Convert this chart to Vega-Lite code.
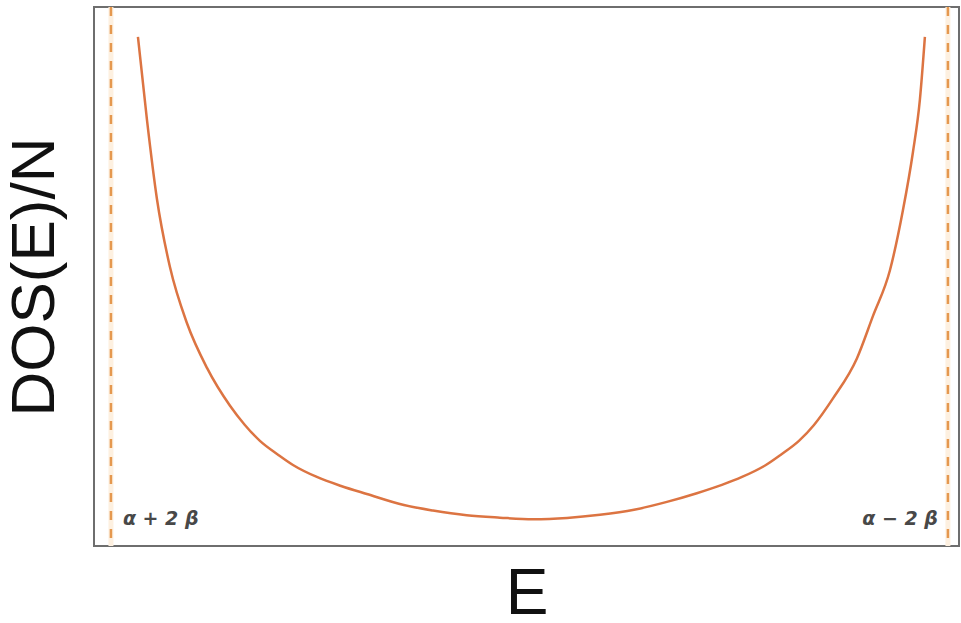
{
  "$schema": "https://vega.github.io/schema/vega-lite/v6.json",
  "autosize": {"type": "none"},
  "padding": {"left": 94, "top": 7, "right": 2, "bottom": 77},
  "width": 865,
  "height": 539,
  "background": "white",
  "config": {
    "view": {"stroke": "#6e6e6e", "strokeWidth": 2},
    "font": "Liberation Sans"
  },
  "datasets": {
    "dos": [
      {"E": -1.871, "DOS": 0.465},
      {"E": -1.828, "DOS": 0.4125},
      {"E": -1.780, "DOS": 0.362},
      {"E": -1.718, "DOS": 0.319},
      {"E": -1.637, "DOS": 0.2835},
      {"E": -1.541, "DOS": 0.255},
      {"E": -1.431, "DOS": 0.231},
      {"E": -1.360, "DOS": 0.2188},
      {"E": -1.288, "DOS": 0.2087},
      {"E": -1.200, "DOS": 0.1998},
      {"E": -1.130, "DOS": 0.1934},
      {"E": -1.016, "DOS": 0.1858},
      {"E": -0.900, "DOS": 0.1801},
      {"E": -0.777, "DOS": 0.175},
      {"E": -0.600, "DOS": 0.168},
      {"E": -0.461, "DOS": 0.1645},
      {"E": -0.300, "DOS": 0.1615},
      {"E": -0.141, "DOS": 0.160},
      {"E": 0.017, "DOS": 0.159},
      {"E": 0.180, "DOS": 0.1598},
      {"E": 0.337, "DOS": 0.1618},
      {"E": 0.500, "DOS": 0.165},
      {"E": 0.657, "DOS": 0.170},
      {"E": 0.800, "DOS": 0.1755},
      {"E": 0.920, "DOS": 0.1808},
      {"E": 1.016, "DOS": 0.1858},
      {"E": 1.130, "DOS": 0.1934},
      {"E": 1.200, "DOS": 0.1998},
      {"E": 1.288, "DOS": 0.2087},
      {"E": 1.360, "DOS": 0.2188},
      {"E": 1.450, "DOS": 0.2355},
      {"E": 1.565, "DOS": 0.261},
      {"E": 1.642, "DOS": 0.288},
      {"E": 1.723, "DOS": 0.317},
      {"E": 1.785, "DOS": 0.355},
      {"E": 1.833, "DOS": 0.392},
      {"E": 1.866, "DOS": 0.425},
      {"E": 1.890, "DOS": 0.465}
    ],
    "bands": [
      {"E": -2, "label": "α + 2 β", "lx": -1.943, "align": "left"},
      {"E": 2, "label": "α − 2 β", "lx": 1.952, "align": "right"}
    ]
  },
  "layer": [
    {
      "data": {"name": "bands"},
      "mark": {"type": "rule", "color": "#fdf0e0", "strokeWidth": 5},
      "encoding": {
        "x": {"field": "E", "type": "quantitative", "scale": {"domain": [-2.081, 2.053], "nice": false, "zero": false},
              "axis": {"title": "E", "titleFontSize": 64, "titleFontWeight": "normal", "titleColor": "#111", "titlePadding": 16, "labels": false, "ticks": false, "domain": false, "grid": false}}
      }
    },
    {
      "data": {"name": "bands"},
      "mark": {"type": "rule", "color": "#e5984f", "strokeWidth": 2.5, "strokeDash": [9, 9]},
      "encoding": {
        "x": {"field": "E", "type": "quantitative"}
      }
    },
    {
      "data": {"name": "dos"},
      "mark": {"type": "line", "color": "#dc7442", "strokeWidth": 2.5, "interpolate": "monotone"},
      "encoding": {
        "x": {"field": "E", "type": "quantitative"},
        "y": {"field": "DOS", "type": "quantitative", "scale": {"domain": [0.142, 0.484], "nice": false, "zero": false},
              "axis": {"title": "DOS(E)/N", "titleFontSize": 62, "titleFontWeight": "normal", "titleColor": "#111", "titlePadding": 28, "labels": false, "ticks": false, "domain": false, "grid": false}}
      }
    },
    {
      "data": {"name": "bands"},
      "transform": [{"filter": "datum.align == 'left'"}],
      "mark": {"type": "text", "align": "left", "baseline": "middle", "fontSize": 19, "fontStyle": "italic", "fontWeight": "bold", "color": "#484848", "font": "DejaVu Sans"},
      "encoding": {
        "x": {"field": "lx", "type": "quantitative"},
        "y": {"datum": 0.159},
        "text": {"field": "label"}
      }
    },
    {
      "data": {"name": "bands"},
      "transform": [{"filter": "datum.align == 'right'"}],
      "mark": {"type": "text", "align": "right", "baseline": "middle", "fontSize": 19, "fontStyle": "italic", "fontWeight": "bold", "color": "#484848", "font": "DejaVu Sans"},
      "encoding": {
        "x": {"field": "lx", "type": "quantitative"},
        "y": {"datum": 0.159},
        "text": {"field": "label"}
      }
    }
  ]
}
